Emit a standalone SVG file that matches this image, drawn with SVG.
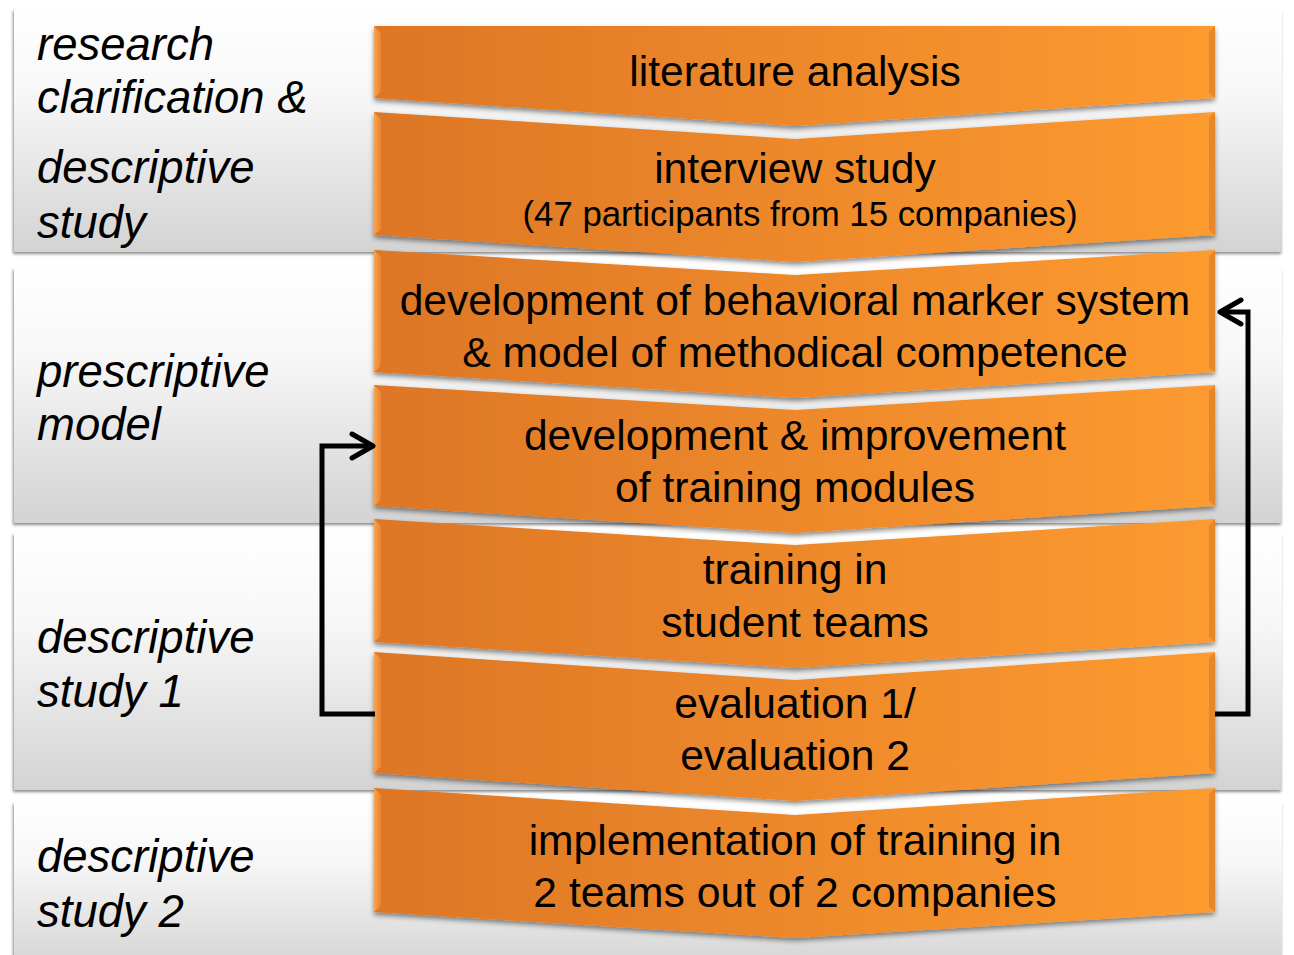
<svg xmlns="http://www.w3.org/2000/svg" width="1294" height="955" viewBox="0 0 1294 955">
<defs>
<linearGradient id="bandG" x1="0" y1="0" x2="0" y2="1">
<stop offset="0" stop-color="#ffffff"/>
<stop offset="0.35" stop-color="#f7f7f7"/>
<stop offset="1" stop-color="#d3d3d3"/>
</linearGradient>
<linearGradient id="orG" x1="0" y1="0" x2="1" y2="0">
<stop offset="0" stop-color="#dd7626"/>
<stop offset="1" stop-color="#fd9b30"/>
</linearGradient>
<linearGradient id="litG" x1="0" y1="0" x2="1" y2="0">
<stop offset="0" stop-color="#f9aa58"/>
<stop offset="1" stop-color="#e8862f"/>
</linearGradient>
<filter id="sh" x="-5%" y="-10%" width="110%" height="130%">
<feDropShadow dx="0" dy="3" stdDeviation="2.5" flood-color="#000" flood-opacity="0.45"/>
</filter>
<filter id="bsh" x="-5%" y="-5%" width="110%" height="115%">
<feDropShadow dx="-1" dy="2" stdDeviation="1.5" flood-color="#000" flood-opacity="0.45"/>
</filter>
<marker id="ah" markerUnits="userSpaceOnUse" markerWidth="30" markerHeight="30" viewBox="-26 -15 30 30" refX="0" refY="0" orient="auto">
<polyline points="-21,-12 0,0 -21,12" fill="none" stroke="#000" stroke-width="5" stroke-linecap="round" stroke-linejoin="round"/>
</marker>
<style>
.band{fill:url(#bandG);filter:url(#bsh)}
.chev{fill:url(#orG);filter:url(#sh)}
.bev{fill:url(#litG);opacity:0.9}
.bevd{fill:#b9601c;opacity:0.35}
.lbl{font-family:"Liberation Sans",Arial,sans-serif;font-style:italic;font-size:45.5px;fill:#000}
.ct{font-family:"Liberation Sans",Arial,sans-serif;font-size:42.6px;fill:#000;text-anchor:middle}
.cs{font-family:"Liberation Sans",Arial,sans-serif;font-size:34.8px;fill:#000;text-anchor:middle}
.conn{fill:none;stroke:#000;stroke-width:5;stroke-linejoin:miter}
</style>
</defs>
<rect width="1294" height="955" fill="#ffffff"/>

<g id="band1">
<rect class="band" x="14" y="9" width="1268" height="243"/>
<text class="lbl" x="37" y="60">research</text>
<text class="lbl" x="37" y="113">clarification &amp;</text>
<text class="lbl" x="37" y="183">descriptive</text>
<text class="lbl" x="37" y="238">study</text>
</g>
<g id="band2">
<rect class="band" x="14" y="268" width="1268" height="255"/>
<text class="lbl" x="37" y="387">prescriptive</text>
<text class="lbl" x="37" y="440">model</text>
</g>
<g id="band3">
<rect class="band" x="14" y="533" width="1268" height="257"/>
<text class="lbl" x="37" y="653">descriptive</text>
<text class="lbl" x="37" y="707">study 1</text>
</g>
<g id="band4">
<rect class="band" x="14" y="802" width="1268" height="170"/>
<text class="lbl" x="37" y="872">descriptive</text>
<text class="lbl" x="37" y="927">study 2</text>
</g>

<g id="c1">
<polygon class="chev" points="374,26 1215,26 1215,98 795,126 374,98"/>
<polygon class="bev" points="374,26 381,33 381,92 374,98"/>
<polygon class="bevd" points="1215,26 1215,98 1209,93 1209,32"/>
<text class="ct" x="795" y="86">literature analysis</text>
</g>
<g id="c2">
<polygon class="chev" points="374,112 795,139 1215,112 1215,235 795,262 374,235"/>
<polygon class="bev" points="374,112 381,119 381,229 374,235"/>
<polygon class="bevd" points="1215,112 1215,235 1209,230 1209,118"/>
<text class="ct" x="795" y="183">interview study</text>
<text class="cs" x="800" y="226">(47 participants from 15 companies)</text>
</g>
<g id="c3">
<polygon class="chev" points="374,250 795,275 1215,250 1215,372 795,398 374,372"/>
<polygon class="bev" points="374,250 381,257 381,366 374,372"/>
<polygon class="bevd" points="1215,250 1215,372 1209,367 1209,256"/>
<text class="ct" x="795" y="315">development of behavioral marker system</text>
<text class="ct" x="795" y="367">&amp; model of methodical competence</text>
</g>
<g id="c4">
<polygon class="chev" points="374,385 795,410 1215,385 1215,506 795,533 374,506"/>
<polygon class="bev" points="374,385 381,392 381,500 374,506"/>
<polygon class="bevd" points="1215,385 1215,506 1209,501 1209,391"/>
<text class="ct" x="795" y="450">development &amp; improvement</text>
<text class="ct" x="795" y="502">of training modules</text>
</g>
<g id="c5">
<polygon class="chev" points="374,519 795,545 1215,519 1215,642 795,668 374,642"/>
<polygon class="bev" points="374,519 381,526 381,636 374,642"/>
<polygon class="bevd" points="1215,519 1215,642 1209,637 1209,525"/>
<text class="ct" x="795" y="584">training in</text>
<text class="ct" x="795" y="637">student teams</text>
</g>
<g id="c6">
<polygon class="chev" points="374,652 795,680 1215,652 1215,773 795,801 374,773"/>
<polygon class="bev" points="374,652 381,659 381,767 374,773"/>
<polygon class="bevd" points="1215,652 1215,773 1209,768 1209,658"/>
<text class="ct" x="795" y="718">evaluation 1/</text>
<text class="ct" x="795" y="770">evaluation 2</text>
</g>
<g id="c7">
<polygon class="chev" points="374,788 795,815 1215,788 1215,912 795,938 374,912"/>
<polygon class="bev" points="374,788 381,795 381,906 374,912"/>
<polygon class="bevd" points="1215,788 1215,912 1209,907 1209,794"/>
<text class="ct" x="795" y="855">implementation of training in</text>
<text class="ct" x="795" y="907">2 teams out of 2 companies</text>
</g>

<g id="connectors">
<path class="conn" d="M375,714 H322 V446 H373" marker-end="url(#ah)"/>
<path class="conn" d="M1215,714 H1248 V312 H1220" marker-end="url(#ah)"/>
</g>
</svg>
